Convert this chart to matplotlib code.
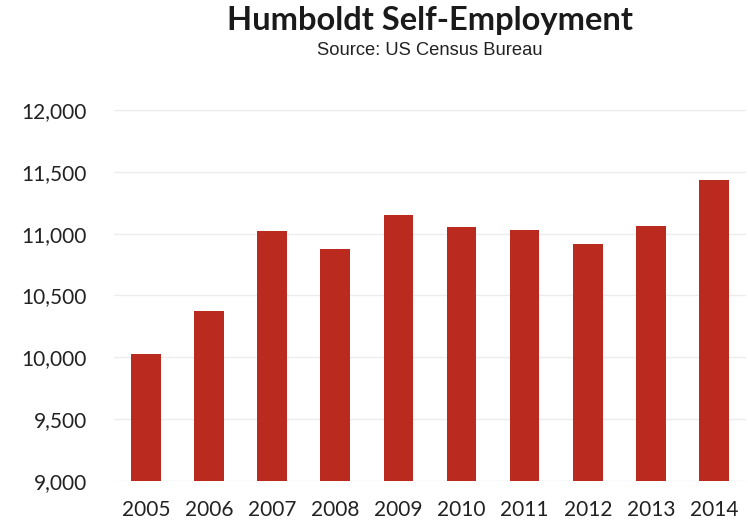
import matplotlib
matplotlib.use("Agg")
import matplotlib.pyplot as plt
from matplotlib.ticker import FuncFormatter

years = ["2005", "2006", "2007", "2008", "2009", "2010", "2011", "2012", "2013", "2014"]
self_employed = [10025, 10372, 11020, 10872, 11152, 11050, 11032, 10917, 11058, 11433]
y_ticks = [9000, 9500, 10000, 10500, 11000, 11500, 12000]

fig = plt.figure(figsize=(7.48, 5.25), dpi=100)
ax = fig.add_axes([0.153, 0.0838, 0.8437, 0.7067])

x = range(len(years))
ax.bar(x, self_employed, width=0.47, color="#BA2A1E", bottom=0, zorder=3)
ax.set_ylim(9000, 12000)
ax.set_xlim(-0.5, len(years) - 0.5)
ax.set_yticks(y_ticks)
ax.yaxis.set_major_formatter(FuncFormatter(lambda v, p: f"{int(v):,}"))
ax.set_xticks(list(x))
ax.set_xticklabels(years)

for s in ax.spines.values():
    s.set_visible(False)
ax.grid(axis="y", color="#ececec", linewidth=1.0, zorder=0)
ax.tick_params(axis="both", length=0, labelsize=15, labelcolor="#222222")
ax.tick_params(axis="y", pad=20)
ax.tick_params(axis="x", pad=14)
for lbl in ax.get_xticklabels() + ax.get_yticklabels():
    lbl.set_family(["Lato", "DejaVu Sans"])

fig.text(0.575, 0.961, "Humboldt Self-Employment", ha="center", va="center",
         fontsize=23.5, fontweight="bold", family=["Lato", "DejaVu Sans"], color="#1a1a1a")
fig.text(0.575, 0.904, "Source: US Census Bureau", ha="center", va="center",
         fontsize=13.2, family=["Liberation Sans", "DejaVu Sans"], color="#222222")

fig.savefig("out.png", dpi=100)
